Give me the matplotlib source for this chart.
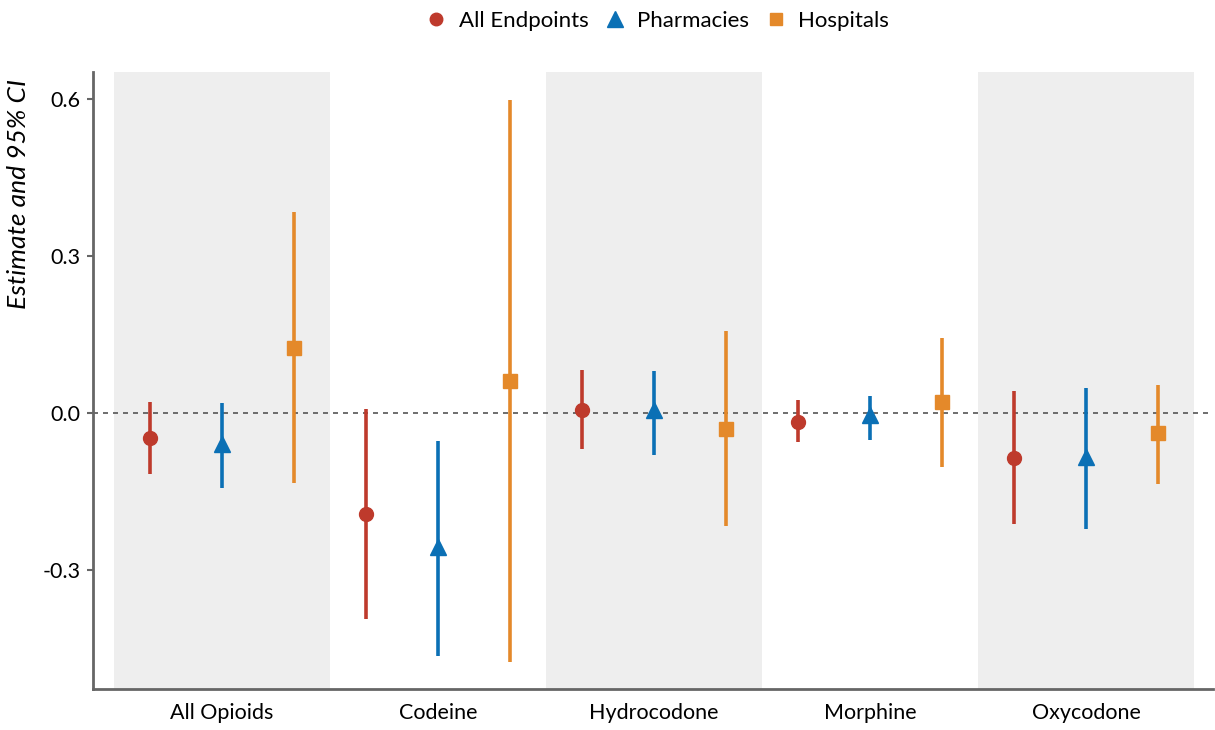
import matplotlib.pyplot as plt
import numpy as np
from matplotlib.lines import Line2D

plt.rcParams['font.family'] = ['Lato', 'DejaVu Sans']

drugs = ["All Opioids", "Codeine", "Hydrocodone", "Morphine", "Oxycodone"]
groups = ["All Endpoints", "Pharmacies", "Hospitals"]

# estimates and 95% CI bounds, one list per group, in drug order
est_all = [-0.048, -0.193, 0.006, -0.017, -0.086]
lo_all = [-0.117, -0.394, -0.069, -0.055, -0.212]
hi_all = [0.021, 0.008, 0.082, 0.025, 0.042]

est_pharm = [-0.059, -0.256, 0.006, -0.004, -0.084]
lo_pharm = [-0.143, -0.464, -0.080, -0.052, -0.222]
hi_pharm = [0.019, -0.054, 0.080, 0.032, 0.048]

est_hosp = [0.124, 0.061, -0.031, 0.021, -0.038]
lo_hosp = [-0.134, -0.476, -0.216, -0.103, -0.136]
hi_hosp = [0.384, 0.598, 0.157, 0.143, 0.054]

colors = ["#BE3A2C", "#0B70B5", "#E4892A"]
markers = ["o", "^", "s"]
msizes = [10, 12, 10]
offsets = [-1/3, 0, 1/3]

fig = plt.figure(figsize=(12.15, 7.3), dpi=100)
ax = fig.add_axes([0.0765, 0.0562, 0.9219, 0.8452])

x = np.arange(1, len(drugs) + 1)

# shaded bands behind every other category
for i in range(0, len(drugs), 2):
    ax.axvspan(x[i] - 0.5, x[i] + 0.5, color="#EEEEEE", zorder=0, lw=0)

ax.axhline(0, color="#555555", lw=1.2, ls=(0, (3, 3)), zorder=1)

series = [(est_all, lo_all, hi_all), (est_pharm, lo_pharm, hi_pharm), (est_hosp, lo_hosp, hi_hosp)]
for k, (est, lo, hi) in enumerate(series):
    xs = x + offsets[k]
    ax.vlines(xs, lo, hi, color=colors[k], lw=2.6, zorder=2)
    ax.plot(xs, est, ls="none", marker=markers[k], color=colors[k],
            markersize=msizes[k], zorder=3)

ax.set_xlim(0.403, 5.588)
ax.set_ylim(-0.527, 0.652)
ax.set_xticks(x)
ax.set_xticklabels(drugs, fontsize=15.5)
ax.set_yticks([-0.3, 0.0, 0.3, 0.6])
ax.set_yticklabels(["-0.3", "0.0", "0.3", "0.6"], fontsize=15.5)
ax.tick_params(axis="x", length=0, pad=10)
ax.tick_params(axis="y", length=4, width=1.5, color="#666666", pad=5)
ax.set_ylabel("Estimate and 95% CI", fontsize=19, style="italic")
ax.yaxis.set_label_coords(-0.056, 0.803)

for s in ["top", "right"]:
    ax.spines[s].set_visible(False)
for s in ["left", "bottom"]:
    ax.spines[s].set_color("#666666")
    ax.spines[s].set_linewidth(2)

handles = [Line2D([], [], ls="none", marker=markers[k], color=colors[k],
                  markersize=msizes[k] - 1, label=groups[k]) for k in range(3)]
fig.legend(handles=handles, loc="upper center", bbox_to_anchor=(0.54, 1.012), ncol=3,
           frameon=False, fontsize=16, handletextpad=0.4, columnspacing=0.6,
           handlelength=1.2)

fig.savefig("out.png", dpi=100)
